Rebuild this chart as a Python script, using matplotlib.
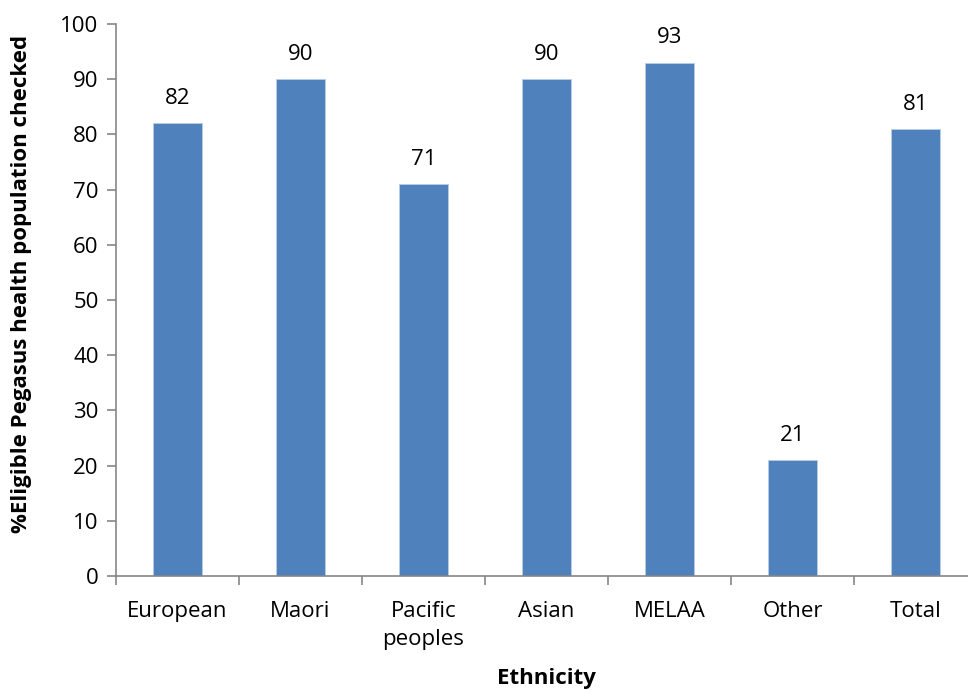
import matplotlib.pyplot as plt

categories = ["European", "Maori", "Pacific\npeoples", "Asian", "MELAA", "Other", "Total"]
values = [82, 90, 71, 90, 93, 21, 81]
y_ticks = [0, 10, 20, 30, 40, 50, 60, 70, 80, 90, 100]

plt.rcParams['font.family'] = ['Open Sans', 'DejaVu Sans']

fig = plt.figure(figsize=(9.68, 6.94), dpi=100)
# axis runs past the right edge like the original
ax = fig.add_axes([116 / 968, 118 / 694, 861 / 968, 552 / 694])

axis_grey = "#868686"
x = list(range(len(categories)))
bars = ax.bar(x, values, width=0.4, color="#4F81BD", edgecolor="#B9CDE5", linewidth=0.6)

for xi, v in zip(x, values):
    ax.text(xi, v + 2.6, str(v), ha="center", va="bottom", fontsize=16)

ax.set_xlim(-0.5, len(categories) - 0.5)
ax.set_ylim(0, 100)
ax.set_yticks(y_ticks)
ax.tick_params(axis="y", direction="out", length=6.5, width=1.2, color=axis_grey, labelsize=16, pad=6)

ax.set_xticks(x)
ax.set_xticklabels(categories, linespacing=1.45)
ax.tick_params(axis="x", length=0, labelsize=16, pad=18)
ax.set_xticks([i - 0.5 for i in range(len(categories) + 1)], minor=True)
ax.tick_params(axis="x", which="minor", direction="out", length=6.5, width=1.2, color=axis_grey)

for side in ["top", "right"]:
    ax.spines[side].set_visible(False)
for side in ["left", "bottom"]:
    ax.spines[side].set_color(axis_grey)
    ax.spines[side].set_linewidth(1.2)

ax.set_xlabel("Ethnicity", fontsize=16, fontweight="bold", labelpad=13)
ax.set_ylabel("%Eligible Pegasus health population checked", fontsize=16, fontweight="bold")
ax.yaxis.set_label_coords(-0.097, 0.53)

fig.savefig("out.png", dpi=100)
